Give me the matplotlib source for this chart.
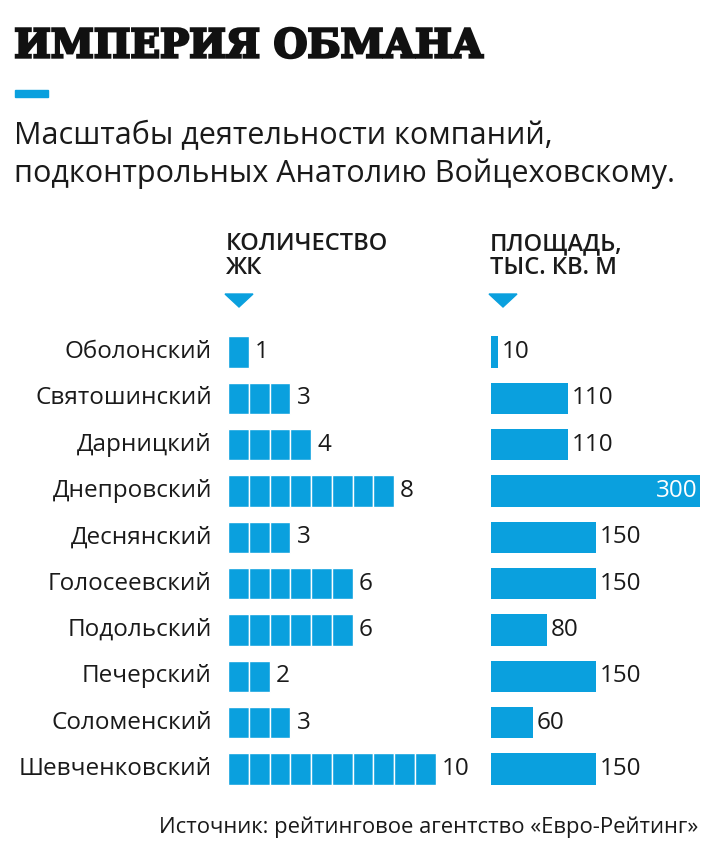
import numpy as np
import matplotlib
matplotlib.use("Agg")
import matplotlib.pyplot as plt
from matplotlib.patches import Polygon, Rectangle, PathPatch
from matplotlib.textpath import TextPath
from matplotlib.font_manager import FontProperties
from matplotlib.transforms import Affine2D

W, H = 720, 859
BLUE = "#0aa0de"
INK = "#1a1a1a"

districts = ["Оболонский", "Святошинский", "Дарницкий", "Днепровский", "Деснянский",
             "Голосеевский", "Подольский", "Печерский", "Соломенский", "Шевченковский"]
complexes = [1, 3, 4, 8, 3, 6, 6, 2, 3, 10]
area = [10, 110, 110, 300, 150, 150, 80, 150, 60, 150]

title = "ИМПЕРИЯ ОБМАНА"
subtitle = "Масштабы деятельности компаний,\nподконтрольных Анатолию Войцеховскому."
head_left = "КОЛИЧЕСТВО\nЖК"
head_right = "ПЛОЩАДЬ,\nТЫС. КВ. М"
source = "Источник: рейтинговое агентство «Евро-Рейтинг»"

plt.rcParams["font.family"] = ["Open Sans", "DejaVu Sans"]

fig = plt.figure(figsize=(W / 100, H / 100), dpi=100)


def fx(x):
    return x / W


def fy(y):
    return 1 - y / H


# layout of the two bar panels (pixels)
row0, row_step = 352, 46.33
top = row0 - row_step / 2
bottom = row0 + row_step * 9.5
n = len(districts)

ax1 = fig.add_axes([fx(228), fy(bottom), 207.5 / W, (bottom - top) / H])
ax2 = fig.add_axes([fx(491), fy(bottom), 209 / W, (bottom - top) / H])

for ax, xmax in ((ax1, 10), (ax2, 300)):
    ax.set_xlim(0, xmax)
    ax.set_ylim(n - 0.5, -0.5)
    ax.axis("off")

y = np.arange(n)
bh = 0.68

# left panel: one block per housing complex
for i, c in enumerate(complexes):
    ax1.barh([i] * c, [1] * c, left=np.arange(c), height=bh,
             color=BLUE, edgecolor="white", linewidth=1.0)
    ax1.text(c + 0.3, i, str(c), va="center", ha="left", fontsize=17.5, color=INK,
             clip_on=False)

# right panel: area
ax2.barh(y, area, height=bh, color=BLUE, edgecolor="none")
for i, a in enumerate(area):
    if a >= 300:
        ax2.text(a - 3, i, str(a), va="center", ha="right", fontsize=17.5, color="white")
    else:
        ax2.text(a + 6, i, str(a), va="center", ha="left", fontsize=17.5, color=INK,
                 clip_on=False)

# district names
for i, name in enumerate(districts):
    fig.text(fx(212), fy(row0 + i * row_step), name, ha="right", va="center",
             fontsize=17.5, color=INK)

# title: heavy slab letters, squeezed into the same box as the original
tp = TextPath((0, 0), title, size=40, prop=FontProperties(family="DejaVu Serif", weight="bold"))
ext = tp.get_extents()
sx = (483 - 16) / ext.width
sy = 30 / ext.height
tr = Affine2D().translate(-ext.x0, -ext.y0).scale(sx, sy).translate(16, H - 58)
fig.patches.append(PathPatch(tp, transform=tr, facecolor="#111111", edgecolor="#111111",
                             linewidth=1.8))

fig.patches.append(Rectangle((fx(15), fy(97)), 33 / W, 7 / H, transform=fig.transFigure,
                             color=BLUE))
fig.text(fx(14), fy(155), subtitle, ha="left", va="center", fontsize=22,
         linespacing=1.3, color=INK)

# column headers with triangles
for x0, txt in ((226, head_left), (490, head_right)):
    fig.text(fx(x0), fy(256), txt, ha="left", va="center", fontsize=17,
             fontweight="semibold", linespacing=1.0, color=INK)
    tri = Polygon([(fx(x0 - 1), fy(294)), (fx(x0 + 27), fy(294)), (fx(x0 + 13), fy(307))],
                  closed=True, transform=fig.transFigure, color=BLUE)
    fig.patches.append(tri)

fig.text(fx(698), fy(827), source, ha="right", va="center", fontsize=15.8, color=INK)

fig.savefig("out.png", dpi=100, facecolor="white")
